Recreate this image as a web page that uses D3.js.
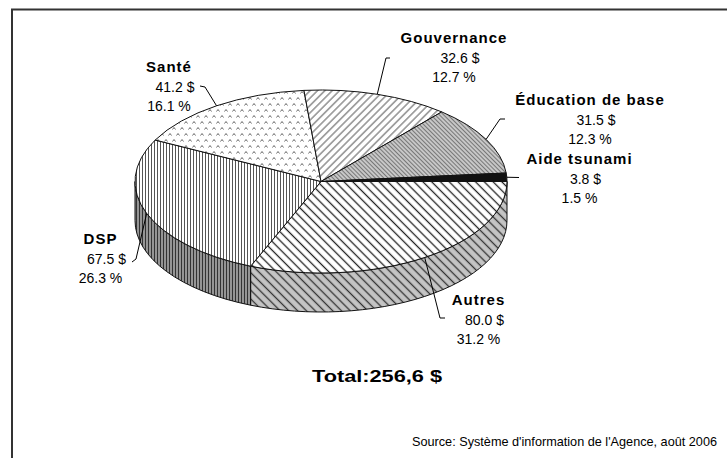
<!DOCTYPE html>
<html>
<head>
<meta charset="utf-8">
<script src="https://cdn.jsdelivr.net/npm/d3@7"></script>
<style>
body { margin: 0; background: #fff; }
text { font-family: Arial, "Liberation Sans", sans-serif; fill: #000; }
</style>
</head>
<body>
<script>
'use strict';

// chart values
let categories = ['Autres', 'DSP', 'Santé', 'Gouvernance', 'Éducation de base', 'Aide tsunami'];
let amounts = [80.0, 67.5, 41.2, 32.6, 31.5, 3.8];
let sourceText = "Source: Système d'information de l'Agence, août 2006";

let WIDTH = 727;
let HEIGHT = 458;
let CX = 321, CY = 181.5;   // centre of top ellipse
let RX = 186, RY = 91.5;    // ellipse radii
let DEPTH = 39;             // thickness of the pie

// label layout: centre x, baseline of the name line, leader knee and end
let labelLayout = {
    'Autres':            { x: 478.5, y: 305, knee: [440, 318], end: [445, 318] },
    'DSP':               { x: 100.5, y: 244, knee: [136, 259], end: [132, 262] },
    'Santé':             { x: 169,   y: 72,  knee: [205, 87],  end: [200, 86] },
    'Gouvernance':       { x: 454,   y: 43,  knee: [386, 58],  end: [390, 58] },
    'Éducation de base': { x: 590,   y: 105, knee: [500, 119], end: [505, 119] },
    'Aide tsunami':      { x: 579.5, y: 164, knee: null,       end: [519, 177.5] }
};

// pattern ids for top and side of every slice
let topFill = {
    'Autres': 'url(#autresTop)', 'DSP': 'url(#dspTop)', 'Santé': 'url(#sante)',
    'Gouvernance': 'url(#gouv)', 'Éducation de base': 'url(#educ)', 'Aide tsunami': '#111'
};
let sideFill = {
    'Autres': 'url(#autresSide)', 'DSP': 'url(#dspSide)', 'Santé': 'url(#sante)',
    'Gouvernance': 'url(#gouv)', 'Éducation de base': 'url(#educ)', 'Aide tsunami': '#111'
};

let total = d3.sum(amounts);
let slices = categories.map((c, i) => ({ name: c, value: amounts[i] }));

// d3 angle: 0 at 12 o'clock, clockwise. Autres starts at 3 o'clock.
let pie = d3.pie()
    .sort(null)
    .value(d => d.value)
    .startAngle(Math.PI / 2)
    .endAngle(Math.PI / 2 + 2 * Math.PI);
let arcs = pie(slices);

function pt(a, dy) {
    return [CX + RX * Math.sin(a), CY - RY * Math.cos(a) + (dy || 0)];
}

function topPath(a0, a1) {
    let p0 = pt(a0), p1 = pt(a1);
    let large = (a1 - a0) > Math.PI ? 1 : 0;
    return `M${CX},${CY}L${p0[0]},${p0[1]}A${RX},${RY} 0 ${large} 1 ${p1[0]},${p1[1]}Z`;
}

function sidePath(a0, a1) {
    let p0 = pt(a0), p1 = pt(a1), q1 = pt(a1, DEPTH), q0 = pt(a0, DEPTH);
    let large = (a1 - a0) > Math.PI ? 1 : 0;
    return `M${p0[0]},${p0[1]}A${RX},${RY} 0 ${large} 1 ${p1[0]},${p1[1]}` +
        `L${q1[0]},${q1[1]}A${RX},${RY} 0 ${large} 0 ${q0[0]},${q0[1]}Z`;
}

let svg = d3.select('body')
    .append('svg')
    .attr('width', WIDTH)
    .attr('height', HEIGHT);

let defs = svg.append('defs');

function stripes(id, w, angle, bg, fg, sw) {
    let p = defs.append('pattern')
        .attr('id', id)
        .attr('patternUnits', 'userSpaceOnUse')
        .attr('width', w)
        .attr('height', w)
        .attr('patternTransform', `rotate(${angle})`);
    p.append('rect').attr('width', w).attr('height', w).attr('fill', bg);
    p.append('line')
        .attr('x1', w / 2).attr('y1', 0)
        .attr('x2', w / 2).attr('y2', w)
        .attr('stroke', fg)
        .attr('stroke-width', sw);
}

stripes('autresTop', 6.2, -45, '#fff', '#222', 1.3);
stripes('autresSide', 6.2, -45, '#c4c4c4', '#333', 1.3);
stripes('gouv', 5.2, 45, '#fff', '#444', 0.9);
stripes('educ', 3, -45, '#d0d0d0', '#777', 1.2);
stripes('dspTop', 3, 0, '#fff', '#555', 1);
stripes('dspSide', 3, 0, '#a0a0a0', '#333', 1.2);

let sp = defs.append('pattern')
    .attr('id', 'sante')
    .attr('patternUnits', 'userSpaceOnUse')
    .attr('width', 8)
    .attr('height', 12);
sp.append('rect').attr('width', 8).attr('height', 12).attr('fill', '#fff');
sp.append('path')
    .attr('d', 'M0.5,3.5L2,1.5L3.5,3.5M4.5,9.5L6,7.5L7.5,9.5')
    .attr('fill', 'none')
    .attr('stroke', '#444')
    .attr('stroke-width', 0.8);

// frame
svg.append('rect')
    .attr('x', 12)
    .attr('y', 9.5)
    .attr('width', 780)
    .attr('height', 520)
    .attr('fill', 'none')
    .attr('stroke', '#333')
    .attr('stroke-width', 2);

// side faces: only the front half (d3 angle PI/2 .. 3PI/2) is visible
let front0 = Math.PI / 2, front1 = 3 * Math.PI / 2;
let sides = arcs
    .map(d => ({ name: d.data.name, a0: Math.max(d.startAngle, front0), a1: Math.min(d.endAngle, front1) }))
    .filter(d => d.a1 > d.a0);

svg.selectAll('path.side')
    .data(sides)
    .enter()
    .append('path')
    .attr('class', 'side')
    .attr('d', d => sidePath(d.a0, d.a1))
    .attr('fill', d => sideFill[d.name])
    .attr('stroke', '#111')
    .attr('stroke-width', 1)
    .attr('stroke-linejoin', 'round');

svg.selectAll('path.top')
    .data(arcs)
    .enter()
    .append('path')
    .attr('class', 'top')
    .attr('d', d => topPath(d.startAngle, d.endAngle))
    .attr('fill', d => topFill[d.data.name])
    .attr('stroke', '#111')
    .attr('stroke-width', 1)
    .attr('stroke-linejoin', 'round');

// leader lines from the rim at the slice middle
svg.selectAll('polyline.leader')
    .data(arcs)
    .enter()
    .append('polyline')
    .attr('class', 'leader')
    .attr('points', d => {
        let lay = labelLayout[d.data.name];
        let rim = pt((d.startAngle + d.endAngle) / 2);
        let pts = [rim];
        if (lay.knee) pts.push(lay.knee);
        pts.push(lay.end);
        return pts.map(p => p.join(',')).join(' ');
    })
    .attr('fill', 'none')
    .attr('stroke', '#000')
    .attr('stroke-width', 1);

// labels
let labels = svg.selectAll('g.label')
    .data(arcs)
    .enter()
    .append('g')
    .attr('class', 'label')
    .attr('transform', d => `translate(${labelLayout[d.data.name].x},${labelLayout[d.data.name].y})`)
    .attr('text-anchor', 'middle');

labels.append('text')
    .attr('font-size', 15)
    .attr('font-weight', 'bold')
    .attr('letter-spacing', 1)
    .text(d => d.data.name);

labels.append('text')
    .attr('x', 6)
    .attr('y', 19.5)
    .attr('font-size', 14)
    .text(d => d.data.value.toFixed(1) + ' $');

labels.append('text')
    .attr('y', 39)
    .attr('font-size', 14)
    .text(d => (d.data.value / total * 100).toFixed(1) + ' %');

// total
svg.append('text')
    .attr('x', 312)
    .attr('y', 382)
    .attr('font-size', 17)
    .attr('font-weight', 'bold')
    .attr('textLength', 130)
    .attr('lengthAdjust', 'spacingAndGlyphs')
    .text('Total:' + total.toFixed(1).replace('.', ',') + ' $');

// source
svg.append('text')
    .attr('x', 412)
    .attr('y', 446)
    .attr('font-size', 13)
    .attr('textLength', 305)
    .attr('lengthAdjust', 'spacingAndGlyphs')
    .text(sourceText);
</script>
</body>
</html>
